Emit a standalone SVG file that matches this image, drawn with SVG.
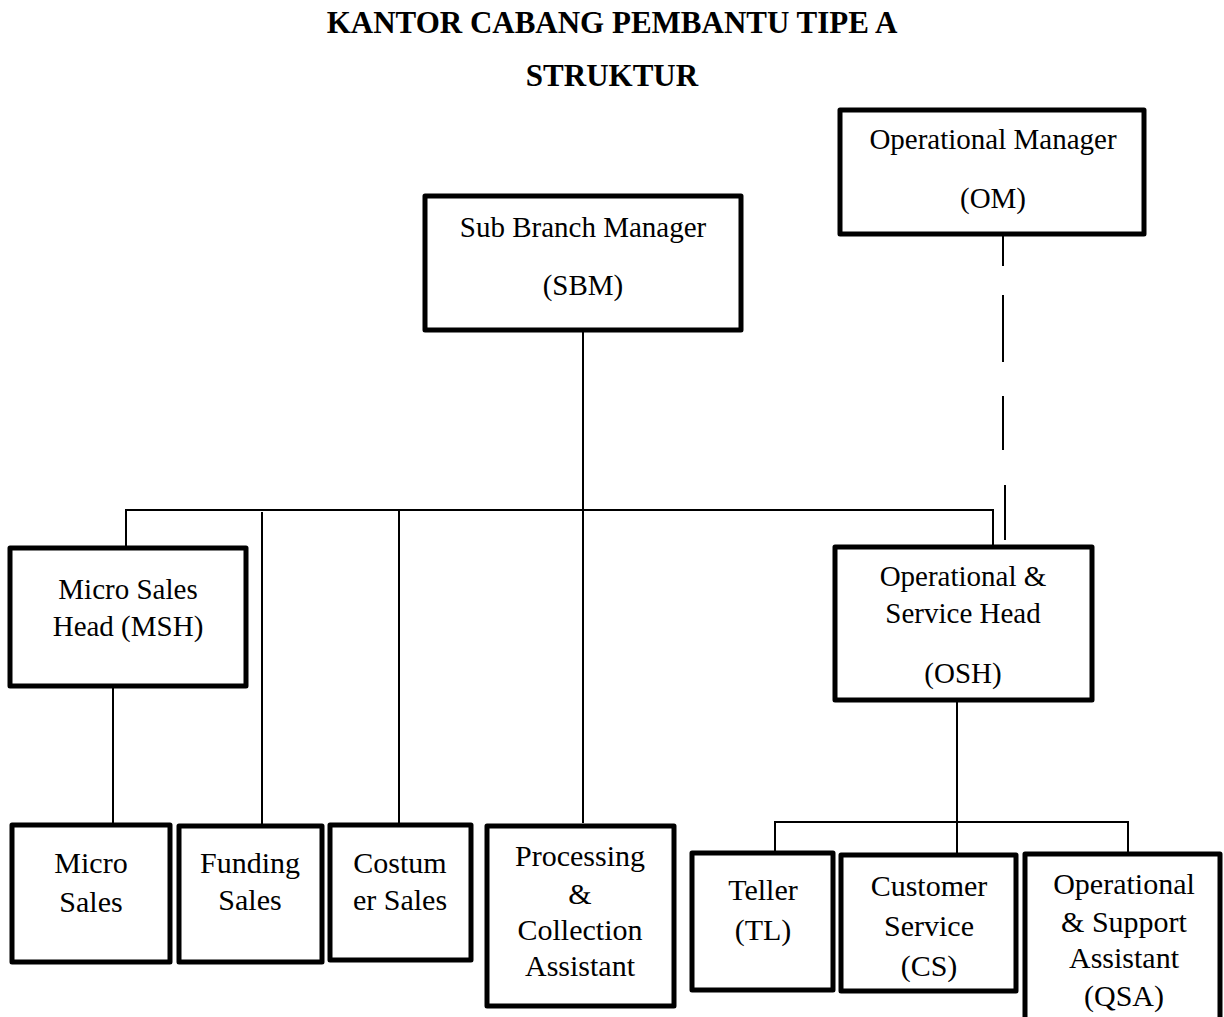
<svg xmlns="http://www.w3.org/2000/svg" width="1224" height="1017" viewBox="0 0 1224 1017">
<style>
.box{fill:#fff;stroke:#000;stroke-width:5;stroke-linejoin:round}
.ln{fill:none;stroke:#000;stroke-width:2}
text{font-family:"Liberation Serif","Times New Roman",serif;fill:#000;text-anchor:middle}
.t{font-size:29px}
.b{font-size:30px}
.h{font-size:31px;font-weight:bold}
</style>
<rect width="1224" height="1017" fill="#fff"/>
<g id="title">
<text class="h" x="612" y="33">KANTOR CABANG PEMBANTU TIPE A</text>
<text class="h" x="612" y="86">STRUKTUR</text>
</g>
<g id="connectors">
<path class="ln" d="M583 331V823"/>
<path class="ln" d="M126 548V510H993V548"/>
<path class="ln" d="M262 512V824"/>
<path class="ln" d="M399 511V823"/>
<path class="ln" d="M113 687V823"/>
<path class="ln" d="M957 701V822"/>
<path class="ln" d="M775 853V822H1128V853"/>
<path class="ln" d="M957 822V855"/>
<path class="ln" d="M1003 229V266M1003 295V362M1003 396V450M1005 485V540"/>
</g>
<g id="sbm">
<rect class="box" x="425" y="196" width="316" height="134"/>
<text class="t" x="583" y="237">Sub Branch Manager</text>
<text class="t" x="583" y="295">(SBM)</text>
</g>
<g id="om">
<rect class="box" x="840" y="110" width="304" height="124"/>
<text class="t" x="993" y="149">Operational Manager</text>
<text class="t" x="993" y="208">(OM)</text>
</g>
<g id="msh">
<rect class="box" x="10" y="548" width="236" height="138"/>
<text class="t" x="128" y="599">Micro Sales</text>
<text class="t" x="128" y="636">Head (MSH)</text>
</g>
<g id="osh">
<rect class="box" x="835" y="547" width="257" height="153"/>
<text class="t" x="963" y="586">Operational &amp;</text>
<text class="t" x="963" y="623">Service Head</text>
<text class="t" x="963" y="683">(OSH)</text>
</g>
<g id="micro-sales">
<rect class="box" x="12" y="825" width="158" height="137"/>
<text class="b" x="91" y="873">Micro</text>
<text class="b" x="91" y="912">Sales</text>
</g>
<g id="funding-sales">
<rect class="box" x="179" y="826" width="143" height="136"/>
<text class="b" x="250" y="873">Funding</text>
<text class="b" x="250" y="910">Sales</text>
</g>
<g id="costumer-sales">
<rect class="box" x="330" y="825" width="141" height="135"/>
<text class="b" x="400" y="873">Costum</text>
<text class="b" x="400" y="910">er Sales</text>
</g>
<g id="processing">
<rect class="box" x="487" y="826" width="187" height="180"/>
<text class="b" x="580" y="866">Processing</text>
<text class="b" x="580" y="904">&amp;</text>
<text class="b" x="580" y="940">Collection</text>
<text class="b" x="580" y="976">Assistant</text>
</g>
<g id="teller">
<rect class="box" x="692" y="853" width="141" height="137"/>
<text class="b" x="763" y="900">Teller</text>
<text class="b" x="763" y="940">(TL)</text>
</g>
<g id="customer-service">
<rect class="box" x="841" y="855" width="175" height="136"/>
<text class="b" x="929" y="896">Customer</text>
<text class="b" x="929" y="936">Service</text>
<text class="b" x="929" y="976">(CS)</text>
</g>
<g id="qsa">
<rect class="box" x="1025" y="854" width="195" height="180"/>
<text class="b" x="1124" y="894">Operational</text>
<text class="b" x="1124" y="932">&amp; Support</text>
<text class="b" x="1124" y="968">Assistant</text>
<text class="b" x="1124" y="1006">(QSA)</text>
</g>
</svg>
